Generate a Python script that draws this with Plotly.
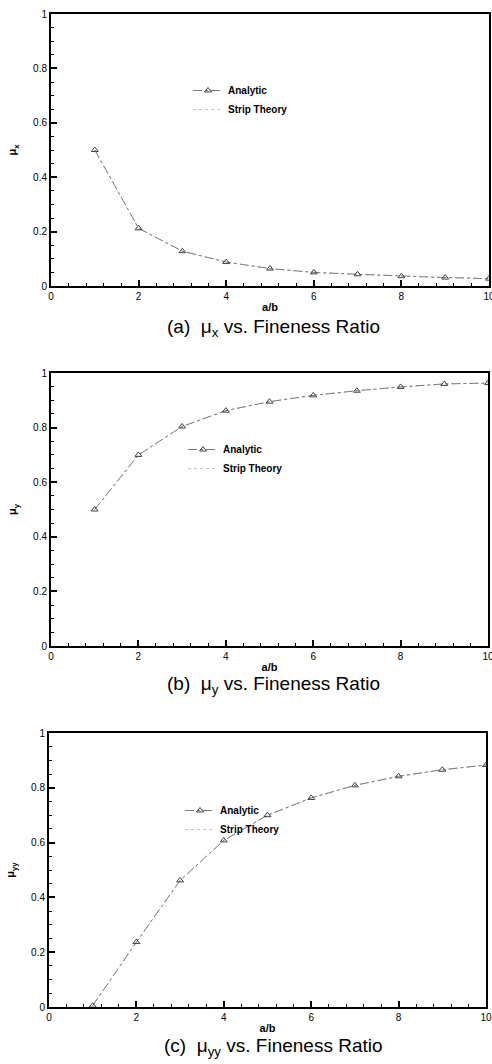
import plotly.graph_objects as go

# ---------------- data ----------------
fineness = [1, 2, 3, 4, 5, 6, 7, 8, 9, 10]

mu_x_analytic = [0.50, 0.212, 0.128, 0.088, 0.064, 0.050, 0.043, 0.036, 0.031, 0.027]
mu_x_strip    = [0.50, 0.212, 0.128, 0.088, 0.064, 0.050, 0.043, 0.036, 0.031, 0.027]

mu_y_analytic = [0.50, 0.700, 0.804, 0.862, 0.895, 0.918, 0.935, 0.949, 0.960, 0.963]
mu_y_strip    = [0.50, 0.700, 0.804, 0.862, 0.895, 0.918, 0.935, 0.949, 0.960, 0.963]

mu_yy_analytic = [0.005, 0.237, 0.462, 0.608, 0.700, 0.763, 0.809, 0.842, 0.866, 0.883]
mu_yy_strip    = [0.005, 0.237, 0.462, 0.608, 0.700, 0.763, 0.809, 0.842, 0.866, 0.883]

x_ticks = [0, 2, 4, 6, 8, 10]
y_ticks = [0, 0.2, 0.4, 0.6, 0.8, 1]
y_tick_labels = ["0", "0.2", "0.4", "0.6", "0.8", "1"]

series_names = ["Analytic", "Strip Theory"]
panel_titles = ["μ<sub>x</sub>", "μ<sub>y</sub>", "μ<sub>yy</sub>"]
captions = ["(a)  μ<sub>x</sub> vs. Fineness Ratio",
            "(b)  μ<sub>y</sub> vs. Fineness Ratio",
            "(c)  μ<sub>yy</sub> vs. Fineness Ratio"]
x_title = "a/b"

# ---------------- layout geometry ----------------
W, H = 492, 1064
FONT = "Liberation Sans, Arial, Helvetica, sans-serif"

panels = [
    # (left, right, top, bottom) in pixels
    (51, 489, 14, 286),
    (51, 488, 373, 646),
    (49, 486, 733, 1007),
]
caption_y = [328, 685, 1047]
legend_pos = [(188, 76), (183, 435), (180, 796)]  # (x of legend left, y top)

data_sets = [
    (mu_x_analytic, mu_x_strip),
    (mu_y_analytic, mu_y_strip),
    (mu_yy_analytic, mu_yy_strip),
]

fig = go.Figure()

for i, ((l, r, t, b), (ana, strip)) in enumerate(zip(panels, data_sets)):
    n = "" if i == 0 else str(i + 1)
    xa = "x" + n
    ya = "y" + n
    leg = "legend" + n
    fig.add_trace(go.Scatter(
        x=fineness, y=strip, name=series_names[1], mode="lines",
        line=dict(color="#c4c4c4", width=1, dash="dot"),
        xaxis=xa, yaxis=ya, legend=leg, legendrank=2,
    ))
    fig.add_trace(go.Scatter(
        x=fineness, y=ana, name=series_names[0], mode="lines+markers",
        line=dict(color="#7a7a7a", width=1, dash="dashdot"),
        marker=dict(symbol="triangle-up-open", size=6, color="#404040",
                    line=dict(width=1)),
        xaxis=xa, yaxis=ya, legend=leg, legendrank=1,
    ))

    axis_common = dict(
        showgrid=False, zeroline=False, automargin=False,
        showline=True, linecolor="black", linewidth=2, mirror=True,
        ticks="inside", ticklen=6, tickwidth=1.5, tickcolor="black",
        ticklabeloverflow="allow",
        tickfont=dict(family=FONT, size=10, color="black"),
    )
    fig.layout["xaxis" + n] = dict(
        axis_common,
        domain=[l / W, r / W], anchor=ya,
        range=[0, 10], tickvals=x_ticks, ticktext=[str(v) for v in x_ticks],
        minor=dict(ticks="inside", ticklen=3, tickwidth=1, tickcolor="black",
                   dtick=0.4, tick0=0),
        title=dict(text="<b>" + x_title + "</b>", standoff=2,
                   font=dict(family=FONT, size=11, color="black")),
    )
    fig.layout["yaxis" + n] = dict(
        axis_common,
        domain=[1 - b / H, 1 - t / H], anchor=xa,
        range=[0, 1], tickvals=y_ticks, ticktext=y_tick_labels,
        minor=dict(ticks="inside", ticklen=3, tickwidth=1, tickcolor="black",
                   dtick=0.05, tick0=0),
        title=dict(text="<b>" + panel_titles[i] + "</b>", standoff=14,
                   font=dict(family=FONT, size=11, color="black")),
    )
    lx, ly = legend_pos[i]
    fig.layout[leg] = dict(
        x=lx / W, y=1 - ly / H, xref="paper", yref="paper",
        xanchor="left", yanchor="top",
        bgcolor="rgba(0,0,0,0)", borderwidth=0,
        font=dict(family=FONT, size=10, color="black", weight="bold"),
        traceorder="normal", tracegroupgap=0, itemwidth=30,
    )
    fig.add_annotation(
        text=captions[i], x=273 / W, y=1 - caption_y[i] / H,
        xref="paper", yref="paper", showarrow=False,
        xanchor="center", yanchor="middle",
        font=dict(family=FONT, size=19, color="black"),
    )

fig.update_layout(
    width=W, height=H,
    margin=dict(l=0, r=0, t=0, b=0, pad=0, autoexpand=False),
    paper_bgcolor="white", plot_bgcolor="white",
    showlegend=True,
)

fig.write_html(
    "out.html",
    config={"displayModeBar": False},
    post_script="document.body.style.margin='0';document.body.style.padding='0';",
)
